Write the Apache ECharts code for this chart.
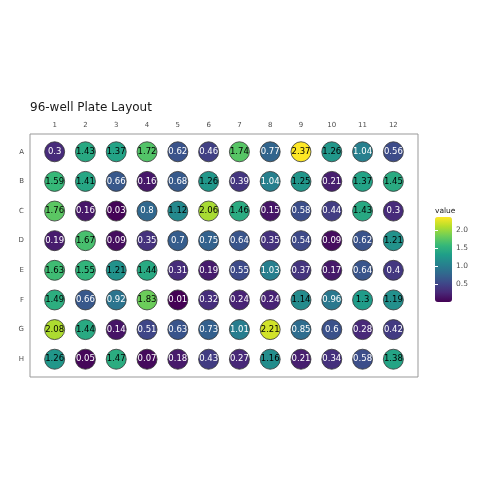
<!DOCTYPE html>
<html>
<head>
<meta charset="utf-8">
<script src="https://cdn.jsdelivr.net/npm/echarts@6/dist/echarts.min.js"></script>
<style>html,body{margin:0;padding:0;background:#fff}#c{width:480px;height:480px}</style>
</head>
<body>
<div id="c"></div>
<script>
const rowLabels = ['A','B','C','D','E','F','G','H'];
const colLabels = ['1','2','3','4','5','6','7','8','9','10','11','12'];
const rowA = [0.3,1.43,1.37,1.72,0.62,0.46,1.74,0.77,2.37,1.26,1.04,0.56];
const rowB = [1.59,1.41,0.66,0.16,0.68,1.26,0.39,1.04,1.25,0.21,1.37,1.45];
const rowC = [1.76,0.16,0.03,0.8,1.12,2.06,1.46,0.15,0.58,0.44,1.43,0.3];
const rowD = [0.19,1.67,0.09,0.35,0.7,0.75,0.64,0.35,0.54,0.09,0.62,1.21];
const rowE = [1.63,1.55,1.21,1.44,0.31,0.19,0.55,1.03,0.37,0.17,0.64,0.4];
const rowF = [1.49,0.66,0.92,1.83,0.01,0.32,0.24,0.24,1.14,0.96,1.3,1.19];
const rowG = [2.08,1.44,0.14,0.51,0.63,0.73,1.01,2.21,0.85,0.6,0.28,0.42];
const rowH = [1.26,0.05,1.47,0.07,0.18,0.43,0.27,1.16,0.21,0.34,0.58,1.38];
const plateRows = [rowA,rowB,rowC,rowD,rowE,rowF,rowG,rowH];
const colorbarTicks = [0.5,1.0,1.5,2.0];

const data = [];
plateRows.forEach((row, r) => row.forEach((v, c) => data.push({
  value:[c + 1, r + 1, v],
  label:{color: v > 1.1 ? '#000' : '#fff'}
})));
const allVals = data.map(d => d.value[2]);
const vmin = Math.min(...allVals), vmax = Math.max(...allVals);
const viridis = ['#440154','#482878','#3e4989','#31688e','#26828e','#1f9e89','#35b779','#6ece58','#b5de2b','#fde725'];
const font = 'DejaVu Sans';

const chart = echarts.init(document.getElementById('c'), null, {renderer:'canvas'});
chart.setOption({
  backgroundColor:'#fff',
  animation:false,
  title:[
    {text:'96-well Plate Layout', left:25, top:97, textStyle:{fontFamily:font, fontSize:12, fontWeight:'normal', color:'#1a1a1a'}},
    {text:'value', left:430, top:202, textStyle:{fontFamily:font, fontSize:7.5, fontWeight:'normal', color:'#1a1a1a'}}
  ],
  grid:[
    {left:30, right:62, top:134, bottom:103, show:true, borderColor:'#999', borderWidth:1, backgroundColor:'#fff'},
    {left:435, top:217, width:17, height:85, show:false}
  ],
  xAxis:[
    {type:'value', gridIndex:0, position:'top', min:0.2, max:12.8,
     axisLine:{show:false}, axisTick:{show:false}, splitLine:{show:false},
     axisLabel:{customValues:colLabels.map((_, i) => i + 1), formatter:v => colLabels[v - 1], margin:5,
       fontFamily:font, fontSize:7, color:'#4d4d4d'}},
    {type:'value', gridIndex:1, show:false, min:0, max:1}
  ],
  yAxis:[
    {type:'value', gridIndex:0, inverse:true, min:0.4, max:8.6,
     axisLine:{show:false}, axisTick:{show:false}, splitLine:{show:false},
     axisLabel:{customValues:rowLabels.map((_, i) => i + 1), formatter:v => rowLabels[v - 1], margin:6,
       fontFamily:font, fontSize:7, color:'#4d4d4d'}},
    {type:'value', gridIndex:1, position:'right', min:vmin, max:vmax, z:10,
     axisLine:{show:false}, splitLine:{show:false},
     axisTick:{show:true, inside:true, length:3, lineStyle:{color:'#fff', width:1}, customValues:colorbarTicks},
     axisLabel:{customValues:colorbarTicks, formatter:v => v.toFixed(1), margin:4, fontFamily:font, fontSize:7.5, color:'#4d4d4d'}},
    {type:'value', gridIndex:1, position:'left', min:vmin, max:vmax, z:10,
     axisLine:{show:false}, splitLine:{show:false}, axisLabel:{show:false},
     axisTick:{show:true, inside:true, length:3, lineStyle:{color:'#fff', width:1}, customValues:colorbarTicks}}
  ],
  visualMap:{type:'continuous', seriesIndex:0, min:vmin, max:vmax, left:435, top:217, itemWidth:17, itemHeight:85,
    padding:0, text:null, showLabel:false, calculable:false, z:2, inRange:{color:viridis}},
  series:[
    {type:'scatter', xAxisIndex:0, yAxisIndex:0, data:data, symbolSize:20,
     itemStyle:{borderColor:'#333', borderWidth:0.8, opacity:1},
     label:{show:true, position:'inside', formatter:p => String(p.value[2]), fontFamily:font, fontSize:8.5}},
    {type:'scatter', xAxisIndex:1, yAxisIndex:1, data:[], silent:true}
  ]
});
</script>
</body>
</html>
